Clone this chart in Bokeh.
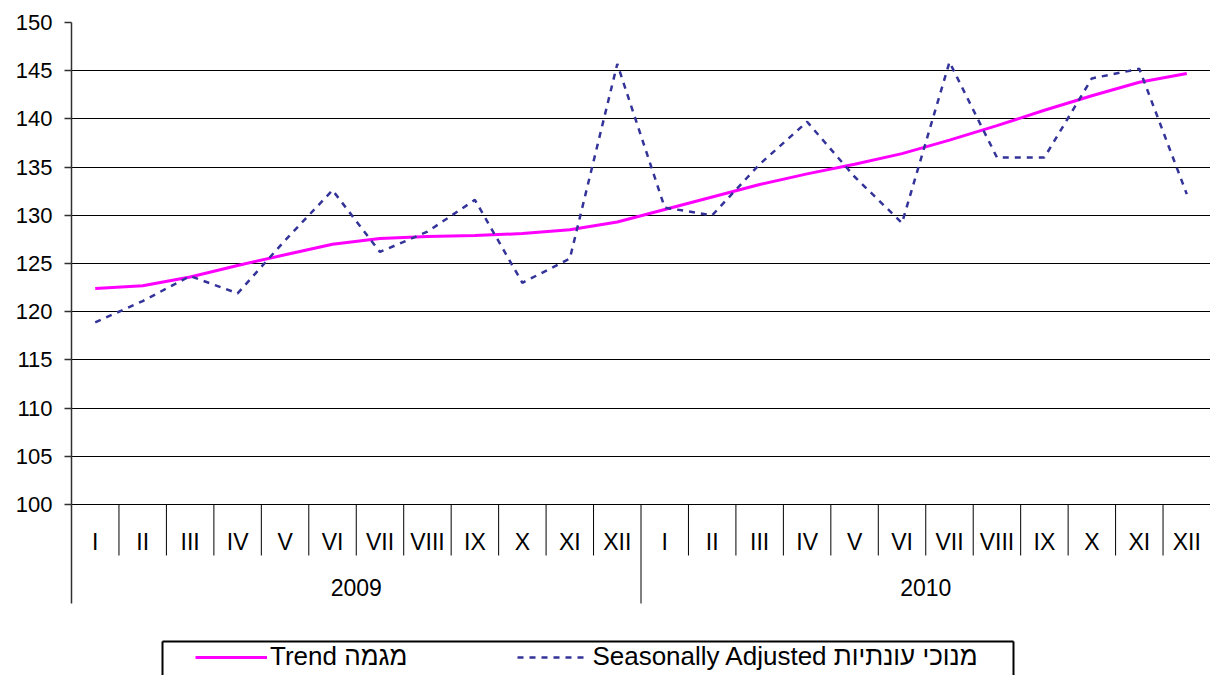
from bokeh.plotting import figure
from bokeh.models import FixedTicker, Range1d, Legend, LegendItem, ColumnDataSource
from bokeh.core.properties import value
from bokeh.embed import file_html
from bokeh.resources import INLINE

# ---------------- data ----------------
years = ["2009", "2010"]
months = ["I", "II", "III", "IV", "V", "VI", "VII", "VIII", "IX", "X", "XI", "XII"]
trend = [122.4, 122.7, 123.6, 124.8, 125.9, 127.0, 127.6, 127.8, 127.9, 128.1, 128.5, 129.3,
         130.6, 131.9, 133.2, 134.3, 135.3, 136.4, 137.8, 139.3, 140.9, 142.4, 143.8, 144.7]
seasonal = [118.9, 121.1, 123.7, 121.9, 127.4, 132.6, 126.2, 128.3, 131.6, 123.0, 125.5, 145.7,
            130.8, 130.0, 135.3, 139.7, 134.0, 129.2, 145.9, 136.0, 136.0, 144.2, 145.2, 132.2]
y_ticks = [100, 105, 110, 115, 120, 125, 130, 135, 140, 145, 150]
trend_label = "Trend מגמה"
seasonal_label = "Seasonally Adjusted מנוכי עונתיות"

# ---------------- layout helpers ----------------
W, H = 1210, 675
BORDER_LEFT, BORDER_TOP = 71, 22
FRAME_W = W - BORDER_LEFT
FRAME_H = H - BORDER_TOP
PX_PER_UNIT = 482 / 50.0
Y_END = 150.0
Y_START = Y_END - FRAME_H / PX_PER_UNIT
N = len(years) * len(months)
PX_PER_CAT = FRAME_W / N


def y_at(page_y):
    return Y_END - (page_y - BORDER_TOP) / PX_PER_UNIT


def x_at(page_x):
    return (page_x - BORDER_LEFT) / PX_PER_CAT


FONT = "Liberation Sans"

labels = [m for _ in years for m in months]
xs = [i + 0.5 for i in range(N)]
src = ColumnDataSource(dict(x=xs, trend=trend, seasonal=seasonal, lab=labels))

p = figure(width=W, height=H, output_backend="svg", toolbar_location=None,
           x_range=Range1d(0, N), y_range=Range1d(Y_START, Y_END),
           x_axis_location=None, min_border_left=BORDER_LEFT, min_border_right=0,
           min_border_top=BORDER_TOP, min_border_bottom=0)
p.outline_line_alpha = 0
p.background_fill_color = "white"

# y axis
ax = p.yaxis[0]
ax.ticker = FixedTicker(ticks=y_ticks)
ax.bounds = (y_at(603), Y_END)
ax.axis_line_color = "#303030"
ax.axis_line_width = 1.5
ax.major_tick_line_color = "#303030"
ax.major_tick_line_width = 1.5
ax.major_tick_out = 7
ax.major_tick_in = 0
ax.minor_tick_line_alpha = 0
ax.major_label_text_font = FONT
ax.major_label_text_font_size = "22px"
ax.major_label_text_color = "black"
ax.major_label_standoff = 12

p.ygrid.ticker = FixedTicker(ticks=y_ticks)
p.ygrid.grid_line_color = "black"
p.ygrid.grid_line_width = 1
p.xgrid.visible = False

# category table below the plot
month_sep = [i for i in range(1, N) if i % len(months) != 0]
year_sep = [i for i in range(1, N) if i % len(months) == 0]
p.segment(x0=month_sep, y0=[100] * len(month_sep), x1=month_sep,
          y1=[y_at(555)] * len(month_sep), line_color="black", line_width=1)
p.segment(x0=year_sep, y0=[100] * len(year_sep), x1=year_sep,
          y1=[y_at(603)] * len(year_sep), line_color="black", line_width=1)
p.text(x="x", y=y_at(541), text="lab", source=src, text_align="center",
       text_baseline="middle", text_font=value(FONT), text_font_size="23px",
       text_color="black")
year_x = [len(months) * (k + 0.5) for k in range(len(years))]
p.text(x=year_x, y=[y_at(587)] * len(years), text=years, text_align="center",
       text_baseline="middle", text_font=value(FONT), text_font_size="23px",
       text_color="black")

# series
r_trend = p.line("x", "trend", source=src, line_color="#FF00FF", line_width=3)
r_sa = p.line("x", "seasonal", source=src, line_color="#333399", line_width=2.5,
              line_dash="6 6")

# legend box (top, left, right edges; bottom is cut off by the window)
bx0, bx1, by0 = x_at(162), x_at(1013), y_at(641)
p.segment(x0=[bx0, bx0, bx1], y0=[by0, by0, by0], x1=[bx1, bx0, bx1],
          y1=[by0, Y_START - 5, Y_START - 5], line_color="black", line_width=2)

legend = Legend(items=[LegendItem(label=trend_label, renderers=[r_trend]),
                       LegendItem(label=seasonal_label, renderers=[r_sa])],
                orientation="horizontal", location=(124, 3),
                padding=0, margin=0, spacing=110, label_standoff=3,
                glyph_width=72, glyph_height=20, label_height=20,
                background_fill_alpha=0, border_line_alpha=0,
                label_text_font=FONT, label_text_font_size="26px",
                label_text_color="black")
p.add_layout(legend)

open("out.html", "w").write(file_html(p, INLINE))
